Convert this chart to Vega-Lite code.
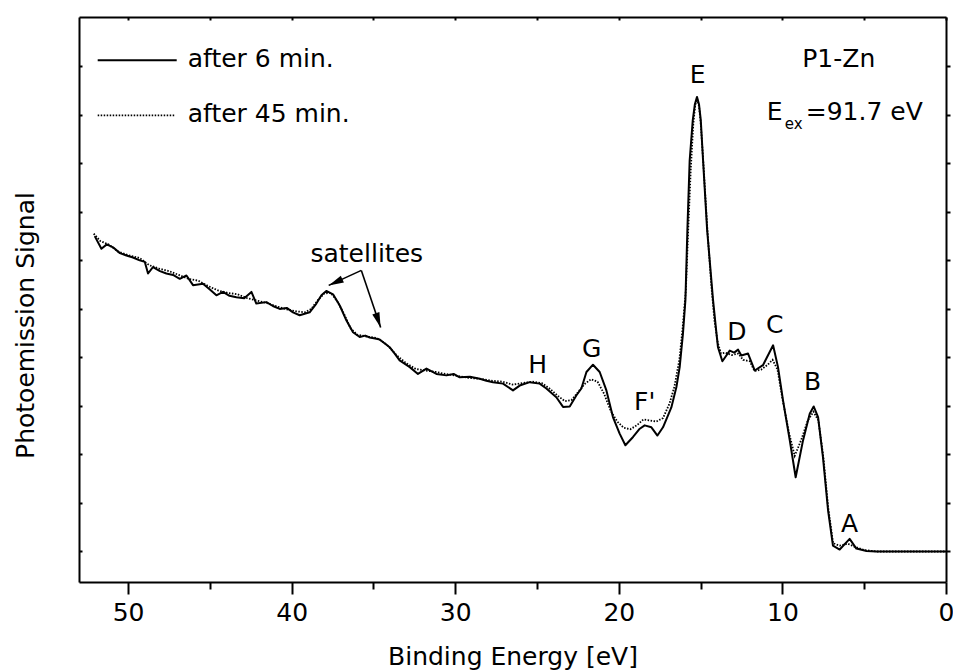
{
  "$schema": "https://vega.github.io/schema/vega-lite/v6.json",
  "width": 867,
  "height": 565,
  "autosize": {"type": "none"},
  "padding": {"left": 79, "top": 17, "right": 7, "bottom": 88},
  "background": "white",
  "config": {
    "view": {"stroke": null},
    "axis": {
      "grid": false,
      "domainColor": "black",
      "domainWidth": 2,
      "tickColor": "black",
      "tickWidth": 2,
      "labelColor": "black",
      "titleColor": "black",
      "labelFont": "DejaVu Sans",
      "titleFont": "DejaVu Sans",
      "titleFontWeight": "normal"
    }
  },
  "datasets": {
    "curves": [
      {"s": "after 6 min.", "E": 52.04, "I": 6.50}, {"s": "after 6 min.", "E": 51.63, "I": 6.24}, {"s": "after 6 min.", "E": 51.30, "I": 6.33},
      {"s": "after 6 min.", "E": 50.92, "I": 6.27}, {"s": "after 6 min.", "E": 50.50, "I": 6.15}, {"s": "after 6 min.", "E": 50.10, "I": 6.10},
      {"s": "after 6 min.", "E": 49.70, "I": 6.06}, {"s": "after 6 min.", "E": 49.29, "I": 6.00}, {"s": "after 6 min.", "E": 48.98, "I": 5.97},
      {"s": "after 6 min.", "E": 48.78, "I": 5.73}, {"s": "after 6 min.", "E": 48.48, "I": 5.86}, {"s": "after 6 min.", "E": 48.05, "I": 5.78},
      {"s": "after 6 min.", "E": 47.66, "I": 5.73}, {"s": "after 6 min.", "E": 47.25, "I": 5.70}, {"s": "after 6 min.", "E": 46.84, "I": 5.62},
      {"s": "after 6 min.", "E": 46.43, "I": 5.69}, {"s": "after 6 min.", "E": 46.03, "I": 5.49}, {"s": "after 6 min.", "E": 45.42, "I": 5.52},
      {"s": "after 6 min.", "E": 45.00, "I": 5.40}, {"s": "after 6 min.", "E": 44.60, "I": 5.28}, {"s": "after 6 min.", "E": 44.20, "I": 5.35},
      {"s": "after 6 min.", "E": 43.80, "I": 5.27}, {"s": "after 6 min.", "E": 43.38, "I": 5.24}, {"s": "after 6 min.", "E": 42.90, "I": 5.22},
      {"s": "after 6 min.", "E": 42.46, "I": 5.35}, {"s": "after 6 min.", "E": 42.16, "I": 5.11}, {"s": "after 6 min.", "E": 41.54, "I": 5.14},
      {"s": "after 6 min.", "E": 41.15, "I": 5.06}, {"s": "after 6 min.", "E": 40.73, "I": 5.00}, {"s": "after 6 min.", "E": 40.30, "I": 5.02},
      {"s": "after 6 min.", "E": 39.92, "I": 4.93}, {"s": "after 6 min.", "E": 39.51, "I": 4.87}, {"s": "after 6 min.", "E": 38.90, "I": 4.93},
      {"s": "after 6 min.", "E": 38.49, "I": 5.11}, {"s": "after 6 min.", "E": 38.18, "I": 5.28}, {"s": "after 6 min.", "E": 37.88, "I": 5.37},
      {"s": "after 6 min.", "E": 37.47, "I": 5.30}, {"s": "after 6 min.", "E": 37.06, "I": 5.07}, {"s": "after 6 min.", "E": 36.65, "I": 4.76},
      {"s": "after 6 min.", "E": 36.25, "I": 4.52}, {"s": "after 6 min.", "E": 35.84, "I": 4.42}, {"s": "after 6 min.", "E": 35.50, "I": 4.45},
      {"s": "after 6 min.", "E": 35.23, "I": 4.41}, {"s": "after 6 min.", "E": 34.90, "I": 4.39}, {"s": "after 6 min.", "E": 34.62, "I": 4.37},
      {"s": "after 6 min.", "E": 34.01, "I": 4.21}, {"s": "after 6 min.", "E": 33.70, "I": 4.08}, {"s": "after 6 min.", "E": 33.40, "I": 3.94},
      {"s": "after 6 min.", "E": 32.78, "I": 3.80}, {"s": "after 6 min.", "E": 32.28, "I": 3.66}, {"s": "after 6 min.", "E": 31.76, "I": 3.77},
      {"s": "after 6 min.", "E": 31.15, "I": 3.66}, {"s": "after 6 min.", "E": 30.54, "I": 3.63}, {"s": "after 6 min.", "E": 30.10, "I": 3.66},
      {"s": "after 6 min.", "E": 29.73, "I": 3.59}, {"s": "after 6 min.", "E": 29.10, "I": 3.60}, {"s": "after 6 min.", "E": 28.50, "I": 3.56},
      {"s": "after 6 min.", "E": 28.10, "I": 3.52}, {"s": "after 6 min.", "E": 27.69, "I": 3.49}, {"s": "after 6 min.", "E": 27.08, "I": 3.46},
      {"s": "after 6 min.", "E": 26.47, "I": 3.32}, {"s": "after 6 min.", "E": 26.06, "I": 3.42}, {"s": "after 6 min.", "E": 25.45, "I": 3.49},
      {"s": "after 6 min.", "E": 24.84, "I": 3.46}, {"s": "after 6 min.", "E": 24.43, "I": 3.36}, {"s": "after 6 min.", "E": 23.82, "I": 3.18},
      {"s": "after 6 min.", "E": 23.41, "I": 2.98}, {"s": "after 6 min.", "E": 23.00, "I": 2.99}, {"s": "after 6 min.", "E": 22.59, "I": 3.22},
      {"s": "after 6 min.", "E": 22.29, "I": 3.36}, {"s": "after 6 min.", "E": 21.98, "I": 3.70}, {"s": "after 6 min.", "E": 21.58, "I": 3.85},
      {"s": "after 6 min.", "E": 21.17, "I": 3.70}, {"s": "after 6 min.", "E": 20.76, "I": 3.32}, {"s": "after 6 min.", "E": 20.36, "I": 2.77},
      {"s": "after 6 min.", "E": 19.95, "I": 2.43}, {"s": "after 6 min.", "E": 19.60, "I": 2.19}, {"s": "after 6 min.", "E": 19.13, "I": 2.36},
      {"s": "after 6 min.", "E": 18.72, "I": 2.53}, {"s": "after 6 min.", "E": 18.42, "I": 2.60}, {"s": "after 6 min.", "E": 18.01, "I": 2.56},
      {"s": "after 6 min.", "E": 17.64, "I": 2.39}, {"s": "after 6 min.", "E": 17.30, "I": 2.56}, {"s": "after 6 min.", "E": 16.79, "I": 2.97},
      {"s": "after 6 min.", "E": 16.48, "I": 3.39}, {"s": "after 6 min.", "E": 16.28, "I": 3.80}, {"s": "after 6 min.", "E": 16.08, "I": 4.49},
      {"s": "after 6 min.", "E": 15.93, "I": 5.18}, {"s": "after 6 min.", "E": 15.81, "I": 6.62}, {"s": "after 6 min.", "E": 15.67, "I": 8.06},
      {"s": "after 6 min.", "E": 15.48, "I": 8.89}, {"s": "after 6 min.", "E": 15.35, "I": 9.22}, {"s": "after 6 min.", "E": 15.22, "I": 9.37},
      {"s": "after 6 min.", "E": 15.10, "I": 9.22}, {"s": "after 6 min.", "E": 14.99, "I": 8.89}, {"s": "after 6 min.", "E": 14.85, "I": 8.06},
      {"s": "after 6 min.", "E": 14.60, "I": 6.62}, {"s": "after 6 min.", "E": 14.24, "I": 5.18}, {"s": "after 6 min.", "E": 14.03, "I": 4.49},
      {"s": "after 6 min.", "E": 13.94, "I": 4.21}, {"s": "after 6 min.", "E": 13.67, "I": 3.92}, {"s": "after 6 min.", "E": 13.22, "I": 4.14},
      {"s": "after 6 min.", "E": 12.95, "I": 4.10}, {"s": "after 6 min.", "E": 12.71, "I": 4.16}, {"s": "after 6 min.", "E": 12.51, "I": 4.04},
      {"s": "after 6 min.", "E": 12.10, "I": 4.08}, {"s": "after 6 min.", "E": 11.69, "I": 3.73}, {"s": "after 6 min.", "E": 11.19, "I": 3.84},
      {"s": "after 6 min.", "E": 10.57, "I": 4.25}, {"s": "after 6 min.", "E": 10.27, "I": 3.80}, {"s": "after 6 min.", "E": 9.96, "I": 3.11},
      {"s": "after 6 min.", "E": 9.55, "I": 2.29}, {"s": "after 6 min.", "E": 9.19, "I": 1.53}, {"s": "after 6 min.", "E": 8.74, "I": 2.29},
      {"s": "after 6 min.", "E": 8.33, "I": 2.84}, {"s": "after 6 min.", "E": 8.09, "I": 2.99}, {"s": "after 6 min.", "E": 7.82, "I": 2.77},
      {"s": "after 6 min.", "E": 7.52, "I": 1.94}, {"s": "after 6 min.", "E": 7.21, "I": 0.85}, {"s": "after 6 min.", "E": 6.91, "I": 0.12},
      {"s": "after 6 min.", "E": 6.50, "I": 0.04}, {"s": "after 6 min.", "E": 5.89, "I": 0.26}, {"s": "after 6 min.", "E": 5.48, "I": 0.06},
      {"s": "after 6 min.", "E": 4.86, "I": 0.01}, {"s": "after 6 min.", "E": 4.25, "I": 0.0}, {"s": "after 6 min.", "E": 0.0, "I": 0.0},

      {"s": "after 45 min.", "E": 52.10, "I": 6.55}, {"s": "after 45 min.", "E": 51.70, "I": 6.40}, {"s": "after 45 min.", "E": 51.20, "I": 6.33},
      {"s": "after 45 min.", "E": 50.60, "I": 6.18}, {"s": "after 45 min.", "E": 49.90, "I": 6.10}, {"s": "after 45 min.", "E": 49.30, "I": 6.05},
      {"s": "after 45 min.", "E": 48.70, "I": 5.90}, {"s": "after 45 min.", "E": 48.10, "I": 5.83}, {"s": "after 45 min.", "E": 47.50, "I": 5.78},
      {"s": "after 45 min.", "E": 46.90, "I": 5.70}, {"s": "after 45 min.", "E": 46.30, "I": 5.62}, {"s": "after 45 min.", "E": 45.70, "I": 5.58},
      {"s": "after 45 min.", "E": 45.10, "I": 5.47}, {"s": "after 45 min.", "E": 44.50, "I": 5.38}, {"s": "after 45 min.", "E": 43.90, "I": 5.33},
      {"s": "after 45 min.", "E": 43.30, "I": 5.30}, {"s": "after 45 min.", "E": 42.70, "I": 5.22}, {"s": "after 45 min.", "E": 42.10, "I": 5.17},
      {"s": "after 45 min.", "E": 41.50, "I": 5.12}, {"s": "after 45 min.", "E": 40.90, "I": 5.05}, {"s": "after 45 min.", "E": 40.30, "I": 4.99},
      {"s": "after 45 min.", "E": 39.70, "I": 4.95}, {"s": "after 45 min.", "E": 39.20, "I": 4.93}, {"s": "after 45 min.", "E": 38.80, "I": 5.00},
      {"s": "after 45 min.", "E": 38.40, "I": 5.18}, {"s": "after 45 min.", "E": 38.00, "I": 5.32}, {"s": "after 45 min.", "E": 37.60, "I": 5.33},
      {"s": "after 45 min.", "E": 37.20, "I": 5.15}, {"s": "after 45 min.", "E": 36.80, "I": 4.90}, {"s": "after 45 min.", "E": 36.40, "I": 4.60},
      {"s": "after 45 min.", "E": 36.00, "I": 4.47}, {"s": "after 45 min.", "E": 35.40, "I": 4.43}, {"s": "after 45 min.", "E": 34.80, "I": 4.40},
      {"s": "after 45 min.", "E": 34.20, "I": 4.27}, {"s": "after 45 min.", "E": 33.60, "I": 4.05}, {"s": "after 45 min.", "E": 33.00, "I": 3.88},
      {"s": "after 45 min.", "E": 32.40, "I": 3.76}, {"s": "after 45 min.", "E": 31.80, "I": 3.73}, {"s": "after 45 min.", "E": 31.20, "I": 3.70},
      {"s": "after 45 min.", "E": 30.60, "I": 3.66}, {"s": "after 45 min.", "E": 29.90, "I": 3.62}, {"s": "after 45 min.", "E": 29.20, "I": 3.58},
      {"s": "after 45 min.", "E": 28.50, "I": 3.56}, {"s": "after 45 min.", "E": 27.80, "I": 3.52}, {"s": "after 45 min.", "E": 27.10, "I": 3.50},
      {"s": "after 45 min.", "E": 26.50, "I": 3.44}, {"s": "after 45 min.", "E": 25.90, "I": 3.47}, {"s": "after 45 min.", "E": 25.30, "I": 3.50},
      {"s": "after 45 min.", "E": 24.70, "I": 3.47}, {"s": "after 45 min.", "E": 24.20, "I": 3.35}, {"s": "after 45 min.", "E": 23.70, "I": 3.20},
      {"s": "after 45 min.", "E": 23.30, "I": 3.10}, {"s": "after 45 min.", "E": 22.90, "I": 3.12}, {"s": "after 45 min.", "E": 22.50, "I": 3.28},
      {"s": "after 45 min.", "E": 22.10, "I": 3.45}, {"s": "after 45 min.", "E": 21.70, "I": 3.55}, {"s": "after 45 min.", "E": 21.30, "I": 3.50},
      {"s": "after 45 min.", "E": 20.90, "I": 3.25}, {"s": "after 45 min.", "E": 20.50, "I": 2.90}, {"s": "after 45 min.", "E": 20.10, "I": 2.68},
      {"s": "after 45 min.", "E": 19.70, "I": 2.55}, {"s": "after 45 min.", "E": 19.30, "I": 2.52}, {"s": "after 45 min.", "E": 18.90, "I": 2.60},
      {"s": "after 45 min.", "E": 18.50, "I": 2.72}, {"s": "after 45 min.", "E": 18.10, "I": 2.70}, {"s": "after 45 min.", "E": 17.70, "I": 2.68},
      {"s": "after 45 min.", "E": 17.30, "I": 2.75}, {"s": "after 45 min.", "E": 16.90, "I": 3.05}, {"s": "after 45 min.", "E": 16.60, "I": 3.40},
      {"s": "after 45 min.", "E": 16.30, "I": 3.95}, {"s": "after 45 min.", "E": 16.10, "I": 4.60}, {"s": "after 45 min.", "E": 15.90, "I": 5.40},
      {"s": "after 45 min.", "E": 15.75, "I": 6.70}, {"s": "after 45 min.", "E": 15.60, "I": 7.90}, {"s": "after 45 min.", "E": 15.45, "I": 8.80},
      {"s": "after 45 min.", "E": 15.33, "I": 9.20}, {"s": "after 45 min.", "E": 15.22, "I": 9.33}, {"s": "after 45 min.", "E": 15.10, "I": 9.18},
      {"s": "after 45 min.", "E": 15.00, "I": 8.85}, {"s": "after 45 min.", "E": 14.85, "I": 8.10}, {"s": "after 45 min.", "E": 14.60, "I": 6.70},
      {"s": "after 45 min.", "E": 14.35, "I": 5.50}, {"s": "after 45 min.", "E": 14.15, "I": 4.75}, {"s": "after 45 min.", "E": 13.95, "I": 4.30},
      {"s": "after 45 min.", "E": 13.75, "I": 4.08}, {"s": "after 45 min.", "E": 13.50, "I": 4.10}, {"s": "after 45 min.", "E": 13.10, "I": 4.05},
      {"s": "after 45 min.", "E": 12.70, "I": 4.08}, {"s": "after 45 min.", "E": 12.40, "I": 3.95}, {"s": "after 45 min.", "E": 12.00, "I": 3.92},
      {"s": "after 45 min.", "E": 11.70, "I": 3.72}, {"s": "after 45 min.", "E": 11.30, "I": 3.75}, {"s": "after 45 min.", "E": 10.90, "I": 3.85},
      {"s": "after 45 min.", "E": 10.60, "I": 3.95}, {"s": "after 45 min.", "E": 10.30, "I": 3.75}, {"s": "after 45 min.", "E": 10.00, "I": 3.15},
      {"s": "after 45 min.", "E": 9.60, "I": 2.45}, {"s": "after 45 min.", "E": 9.25, "I": 1.97}, {"s": "after 45 min.", "E": 8.85, "I": 2.30},
      {"s": "after 45 min.", "E": 8.45, "I": 2.70}, {"s": "after 45 min.", "E": 8.10, "I": 2.88}, {"s": "after 45 min.", "E": 7.80, "I": 2.70},
      {"s": "after 45 min.", "E": 7.50, "I": 1.95}, {"s": "after 45 min.", "E": 7.20, "I": 0.90}, {"s": "after 45 min.", "E": 6.90, "I": 0.17},
      {"s": "after 45 min.", "E": 6.50, "I": 0.12}, {"s": "after 45 min.", "E": 6.00, "I": 0.16}, {"s": "after 45 min.", "E": 5.60, "I": 0.10},
      {"s": "after 45 min.", "E": 5.00, "I": 0.03}, {"s": "after 45 min.", "E": 4.20, "I": 0.0}, {"s": "after 45 min.", "E": 0.0, "I": 0.0}
    ],
    "keys": [
      {"s": "after 6 min.", "E": 51.857, "E2": 47.027, "I": 10.124},
      {"s": "after 45 min.", "E": 51.857, "E2": 47.15, "I": 8.99}
    ],
    "notes": [
      {"t": "after 6 min.", "E": 46.355, "I": 9.979, "k": "l"},
      {"t": "after 45 min.", "E": 46.355, "I": 8.845, "k": "l"},
      {"t": "P1-Zn", "E": 6.557, "I": 9.979, "k": "c"},
      {"t": "E", "E": 10.96, "I": 8.887, "k": "l"},
      {"t": "ex", "E": 9.86, "I": 8.70, "k": "s"},
      {"t": "=91.7 eV", "E": 8.575, "I": 8.887, "k": "l"},
      {"t": "E", "E": 15.18, "I": 9.649, "k": "c"},
      {"t": "H", "E": 24.96, "I": 3.67, "k": "c"},
      {"t": "G", "E": 21.66, "I": 4.0, "k": "c"},
      {"t": "F'", "E": 18.42, "I": 2.907, "k": "c"},
      {"t": "D", "E": 12.79, "I": 4.351, "k": "c"},
      {"t": "C", "E": 10.47, "I": 4.495, "k": "c"},
      {"t": "B", "E": 8.15, "I": 3.32, "k": "c"},
      {"t": "A", "E": 5.89, "I": 0.392, "k": "c"},
      {"t": "satellites", "E": 35.41, "I": 5.959, "k": "c"}
    ],
    "arrows": [
      {"a": "left", "E": 35.74, "I": 5.794, "E2": 37.735, "I2": 5.485},
      {"a": "right", "E": 35.74, "I": 5.794, "E2": 34.56, "I2": 4.619}
    ]
  },
  "layer": [
    {
      "data": {"name": "curves"},
      "transform": [{"filter": "datum.s === 'after 6 min.'"}],
      "mark": {"type": "line", "stroke": "black", "strokeWidth": 2, "strokeJoin": "round"},
      "encoding": {
        "x": {
          "field": "E", "type": "quantitative",
          "scale": {"domain": [0, 53], "reverse": true, "nice": false, "zero": false},
          "axis": {
            "orient": "bottom",
            "values": [0, 5, 10, 15, 20, 25, 30, 35, 40, 45, 50],
            "labelExpr": "datum.value % 10 === 0 ? datum.label : ''",
            "tickSize": {"condition": {"test": "datum.value % 10 === 0", "value": 12}, "value": 7},
            "labelFontSize": 25,
            "labelPadding": 6,
            "labelFlush": false,
            "title": "Binding Energy [eV]",
            "titleFontSize": 25,
            "titleY": 82,
            "titleBaseline": "alphabetic"
          }
        },
        "y": {
          "field": "I", "type": "quantitative",
          "scale": {"domain": [-0.629, 11.017], "nice": false, "zero": false},
          "axis": {
            "orient": "left",
            "values": [0, 1, 2, 3, 4, 5, 6, 7, 8, 9, 10],
            "labels": false,
            "tickSize": -3,
            "title": "Photoemission Signal",
            "titleFontSize": 25,
            "titleAngle": -90,
            "titleX": -46,
            "titleY": 308,
            "titleAlign": "center",
            "titleBaseline": "alphabetic"
          }
        }
      }
    },
    {
      "data": {"name": "curves"},
      "transform": [{"filter": "datum.s === 'after 45 min.'"}],
      "mark": {"type": "line", "stroke": "black", "strokeWidth": 1.8, "strokeDash": [1.5, 1.5]},
      "encoding": {
        "x": {
          "field": "E", "type": "quantitative",
          "axis": {"orient": "top", "values": [0, 5, 10, 15, 20, 25, 30, 35, 40, 45, 50], "labels": false, "tickSize": -3, "title": null}
        },
        "y": {
          "field": "I", "type": "quantitative",
          "axis": {"orient": "right", "values": [0, 1, 2, 3, 4, 5, 6, 7, 8, 9, 10], "labels": false, "tickSize": 4, "title": null}
        }
      }
    },
    {
      "data": {"name": "keys"},
      "transform": [{"filter": "datum.s === 'after 6 min.'"}],
      "mark": {"type": "rule", "stroke": "black", "strokeWidth": 2},
      "encoding": {
        "x": {"field": "E", "type": "quantitative", "axis": null},
        "x2": {"field": "E2"},
        "y": {"field": "I", "type": "quantitative", "axis": null}
      }
    },
    {
      "data": {"name": "keys"},
      "transform": [{"filter": "datum.s === 'after 45 min.'"}],
      "mark": {"type": "rule", "stroke": "black", "strokeWidth": 1.8, "strokeDash": [1.5, 1.5]},
      "encoding": {
        "x": {"field": "E", "type": "quantitative", "axis": null},
        "x2": {"field": "E2"},
        "y": {"field": "I", "type": "quantitative", "axis": null}
      }
    },
    {
      "data": {"name": "notes"},
      "transform": [{"filter": "datum.k === 'c'"}],
      "mark": {"type": "text", "font": "DejaVu Sans", "fontSize": 25, "align": "center", "baseline": "alphabetic", "color": "black"},
      "encoding": {
        "x": {"field": "E", "type": "quantitative", "axis": null},
        "y": {"field": "I", "type": "quantitative", "axis": null},
        "text": {"field": "t"}
      }
    },
    {
      "data": {"name": "notes"},
      "transform": [{"filter": "datum.k === 'l'"}],
      "mark": {"type": "text", "font": "DejaVu Sans", "fontSize": 25, "align": "left", "baseline": "alphabetic", "color": "black"},
      "encoding": {
        "x": {"field": "E", "type": "quantitative", "axis": null},
        "y": {"field": "I", "type": "quantitative", "axis": null},
        "text": {"field": "t"}
      }
    },
    {
      "data": {"name": "notes"},
      "transform": [{"filter": "datum.k === 's'"}],
      "mark": {"type": "text", "font": "DejaVu Sans", "fontSize": 15, "align": "left", "baseline": "alphabetic", "color": "black"},
      "encoding": {
        "x": {"field": "E", "type": "quantitative", "axis": null},
        "y": {"field": "I", "type": "quantitative", "axis": null},
        "text": {"field": "t"}
      }
    },
    {
      "data": {"name": "arrows"},
      "mark": {"type": "rule", "stroke": "black", "strokeWidth": 1.6},
      "encoding": {
        "x": {"field": "E", "type": "quantitative", "axis": null},
        "y": {"field": "I", "type": "quantitative", "axis": null},
        "x2": {"field": "E2"},
        "y2": {"field": "I2"}
      }
    },
    {
      "data": {"name": "arrows"},
      "transform": [{"filter": "datum.a === 'left'"}],
      "mark": {"type": "point", "shape": "M0,0L-0.5,2L0.5,2Z", "filled": true, "color": "black", "size": 225, "angle": 245.4, "opacity": 1},
      "encoding": {
        "x": {"field": "E2", "type": "quantitative", "axis": null},
        "y": {"field": "I2", "type": "quantitative", "axis": null}
      }
    },
    {
      "data": {"name": "arrows"},
      "transform": [{"filter": "datum.a === 'right'"}],
      "mark": {"type": "point", "shape": "M0,0L-0.5,2L0.5,2Z", "filled": true, "color": "black", "size": 225, "angle": 161.3, "opacity": 1},
      "encoding": {
        "x": {"field": "E2", "type": "quantitative", "axis": null},
        "y": {"field": "I2", "type": "quantitative", "axis": null}
      }
    }
  ],
  "resolve": {"axis": {"x": "independent", "y": "independent"}}
}
